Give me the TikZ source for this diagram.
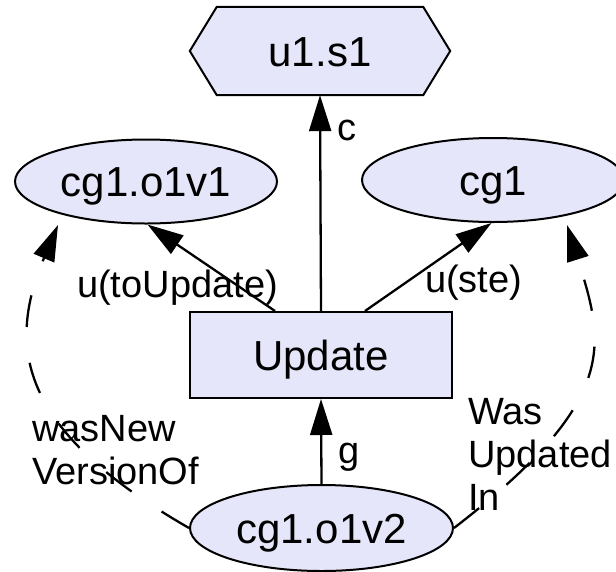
\documentclass[tikz,border=0pt]{standalone}
\usepackage{fontspec}
\setmainfont{Liberation Sans}
\usetikzlibrary{arrows.meta,shapes.geometric,backgrounds,calc}
\definecolor{nodefill}{RGB}{230,230,250}
\begin{document}
\begin{tikzpicture}[x=1pt,y=-1pt,
  nodefont/.style={font=\fontsize{42}{48}\selectfont, text height=30pt, text depth=0pt},
  labelfont/.style={font=\fontsize{38}{43}\selectfont, inner sep=0pt, align=left},
  ovalnode/.style={ellipse, draw, line width=2pt, fill=nodefill,
    minimum width=262pt, minimum height=84pt, inner sep=0pt, nodefont},
  boxnode/.style={rectangle, draw, line width=2pt, fill=nodefill,
    minimum width=262pt, minimum height=86pt, inner sep=0pt, nodefont},
  hexnode/.style={rectangle, minimum width=260pt, minimum height=88pt, inner sep=0pt, nodefont},
  hexframe/.style={draw, line width=2pt, fill=nodefill, line join=miter},
  edge/.style={line width=2.3pt, -{Triangle[length=36pt,width=22pt]}},
  dashedge/.style={edge, dash pattern=on 32pt off 36pt}]
\useasboundingbox (0,0) rectangle (616,571);

% nodes
\node[hexnode] (hex) at (320,51) {u1.s1};
\begin{scope}[on background layer]
  \path[hexframe] (hex.west) -- ([xshift=27pt]hex.north west) -- ([xshift=-27pt]hex.north east)
    -- (hex.east) -- ([xshift=-27pt]hex.south east) -- ([xshift=27pt]hex.south west) -- cycle;
\end{scope}
\node[ovalnode] (o1v1) at (146,181.5) {cg1.o1v1};
\node[ovalnode] (cg1) at (493,180) {cg1};
\node[boxnode] (upd) at (321,355) {Update};
\node[ovalnode, minimum width=263pt, minimum height=86pt] (o1v2) at (321.5,528) {cg1.o1v2};

% free ends of the dashed provenance links
\coordinate (tipL) at (58,225);
\coordinate (tipR) at (567,225);

% solid edges
\draw[edge] (upd.north) -- (hex.south);
\draw[edge] ([xshift=-46pt]upd.north) -- (o1v1.272);
\draw[edge] ([xshift=44pt]upd.north) -- (cg1.268);
\draw[edge] (o1v2.north) -- (upd.south);

% dashed edges
\draw[dashedge] (o1v2.west) .. controls (22,432) and (5,350) .. (tipL);
\draw[dashedge] (o1v2.east) .. controls (620,400) and (605,345) .. (tipR);

% edge labels
\node[labelfont, anchor=base west] (lc) at (337,140) {c};
\node[labelfont, anchor=base west] (lu1) at (77,297) {u(toUpdate)};
\node[labelfont, anchor=base west] (lu2) at (425,292) {u(ste)};
\node[labelfont, anchor=base west] (lg) at (338,463) {g};
\node[labelfont, anchor=north west] (lnew) at (32,415) {wasNew\\VersionOf};
\node[labelfont, anchor=north west] (lupd) at (468,398) {Was\\Updated\\In};
\end{tikzpicture}
\end{document}
